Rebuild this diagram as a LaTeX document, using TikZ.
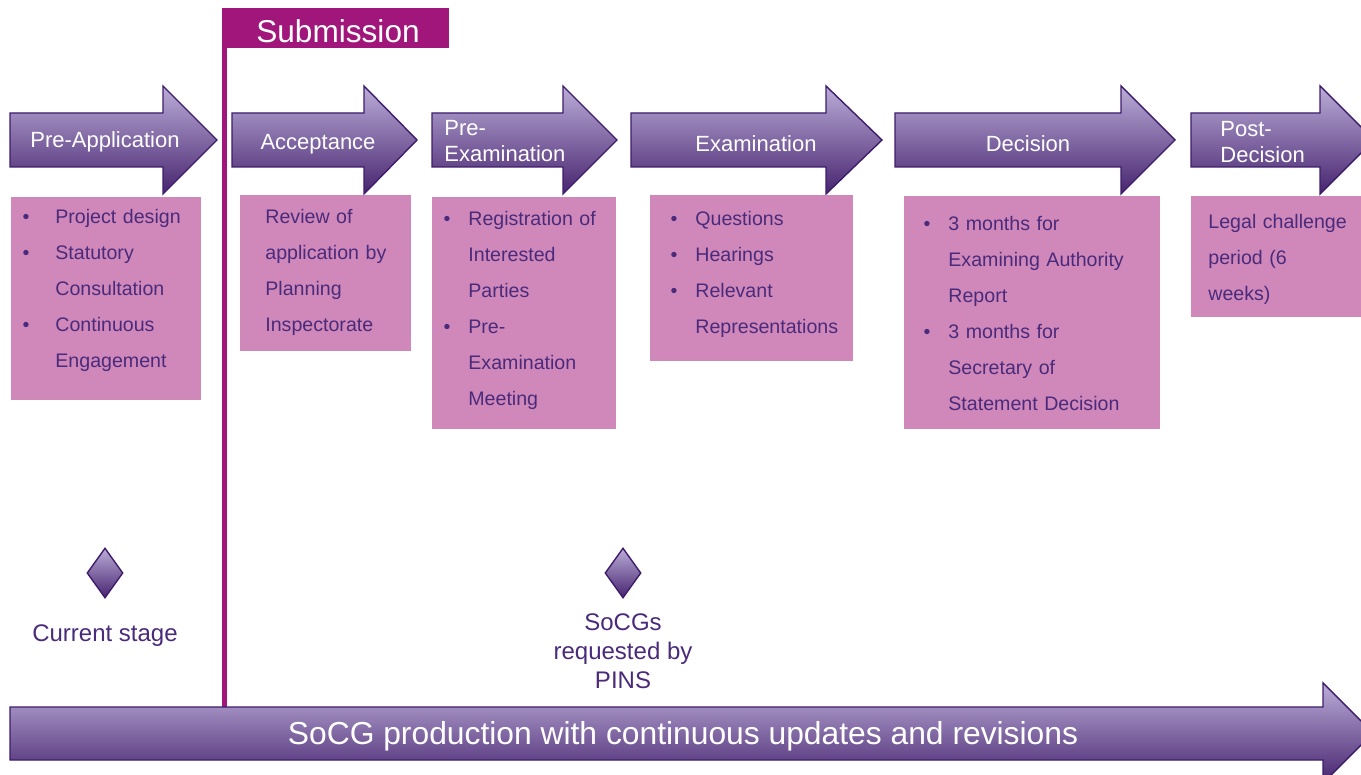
\documentclass[tikz,border=0pt]{standalone}
\usepackage{fontspec}
\setmainfont{Liberation Sans}
\usepackage{tikz}
\usetikzlibrary{shapes.geometric}
\definecolor{stagetop}{HTML}{BBADD8}
\definecolor{stagebot}{HTML}{47246F}
\definecolor{stageline}{HTML}{3E1C6B}
\definecolor{notefill}{HTML}{D088BB}
\definecolor{notetext}{HTML}{4A2A7A}
\definecolor{submitcol}{HTML}{A0167A}
\newcommand{\bul}[1][9pt]{\leavevmode\llap{\textbullet\hspace{#1}}}

\begin{document}
\begin{tikzpicture}[
    x=0.5pt,y=-0.5pt,
    stage/.style={draw=stageline,line width=0.7pt,top color=stagetop,bottom color=stagebot},
    lbl/.style={text=white,inner sep=0pt,font=\fontsize{11}{13}\selectfont},
    note/.style={fill=notefill},
    notetxt/.style={text=notetext,anchor=base west,inner sep=0pt,text width=120pt,align=left,
        font=\fontsize{9.8}{18}\selectfont},
    milestone/.style={diamond,draw=stageline,line width=0.7pt,top color=stagetop,bottom color=stagebot,
        minimum width=18pt,minimum height=25pt,inner sep=0pt},
    milestonetxt/.style={text=notetext,inner sep=0pt,align=center,font=\fontsize{12}{14.5}\selectfont},
]
    \useasboundingbox (0,0) rectangle (1361,775);

    % submission marker
    \fill[submitcol] (222,8) rectangle (449,48);
    \fill[submitcol] (222,8) rectangle (227,707);
    \node[text=white,inner sep=0pt,font=\fontsize{15.8}{18}\selectfont] (submit) at (338,31) {Submission};

    % stage arrows
    \foreach \l/\b/\t in {10/163/217,232/364/417,432/563/617,631/826/882,895/1121/1175,1191/1320/1374}
        \path[stage] (\l,113) -- (\b,113) -- (\b,86) -- (\t,140) -- (\b,194) -- (\b,167) -- (\l,167) -- cycle;
    \node[lbl] (preapp) at (105,142) {Pre-Application};
    \node[lbl] (accept) at (318,144) {Acceptance};
    \node[lbl,align=left,anchor=west] (preexam) at (444,141) {Pre-\\Examination};
    \node[lbl] (exam) at (756,144) {Examination};
    \node[lbl] (decis) at (1028,144) {Decision};
    \node[lbl,align=left,anchor=west] (postdec) at (1220,142) {Post-\\Decision};

    % stage notes
    \fill[note] (11,197) rectangle (201,400);
    \fill[note] (240,195) rectangle (411,351);
    \fill[note] (432,197) rectangle (616,429);
    \fill[note] (650,195) rectangle (853,361);
    \fill[note] (904,196) rectangle (1160,429);
    \fill[note] (1191,196) rectangle (1361,317);
    \node[notetxt] (preappnote) at (55,224) {\bul[13pt]Project design\\\bul[13pt]Statutory\\Consultation\\\bul[13pt]Continuous\\Engagement};
    \node[notetxt] (acceptnote) at (265,224) {Review of\\application by\\Planning\\Inspectorate};
    \node[notetxt] (preexamnote) at (468,226) {\bul Registration of\\Interested\\Parties\\\bul Pre-\\Examination\\Meeting};
    \node[notetxt] (examnote) at (695,226) {\bul Questions\\\bul Hearings\\\bul Relevant\\Representations};
    \node[notetxt] (decisnote) at (948,231) {\bul 3 months for\\Examining Authority\\Report\\\bul 3 months for\\Secretary of\\Statement Decision};
    \node[notetxt] (postdecnote) at (1208,229) {Legal challenge\\period (6\\weeks)};

    % milestones
    \node[milestone] (current) at (105,573) {};
    \node[milestonetxt] (currentlbl) at (105,636) {Current stage};
    \node[milestone] (request) at (623,573) {};
    \node[milestonetxt] (requestlbl) at (623,651) {SoCGs\\requested by\\PINS};

    % production arrow
    \path[stage] (10,707) -- (1323,707) -- (1323,683) -- (1373,733) -- (1323,783) -- (1323,760) -- (10,760) -- cycle;
    \node[text=white,inner sep=0pt,font=\fontsize{15.9}{18}\selectfont] (socg) at (683,736)
        {SoCG production with continuous updates and revisions};
\end{tikzpicture}
\end{document}
